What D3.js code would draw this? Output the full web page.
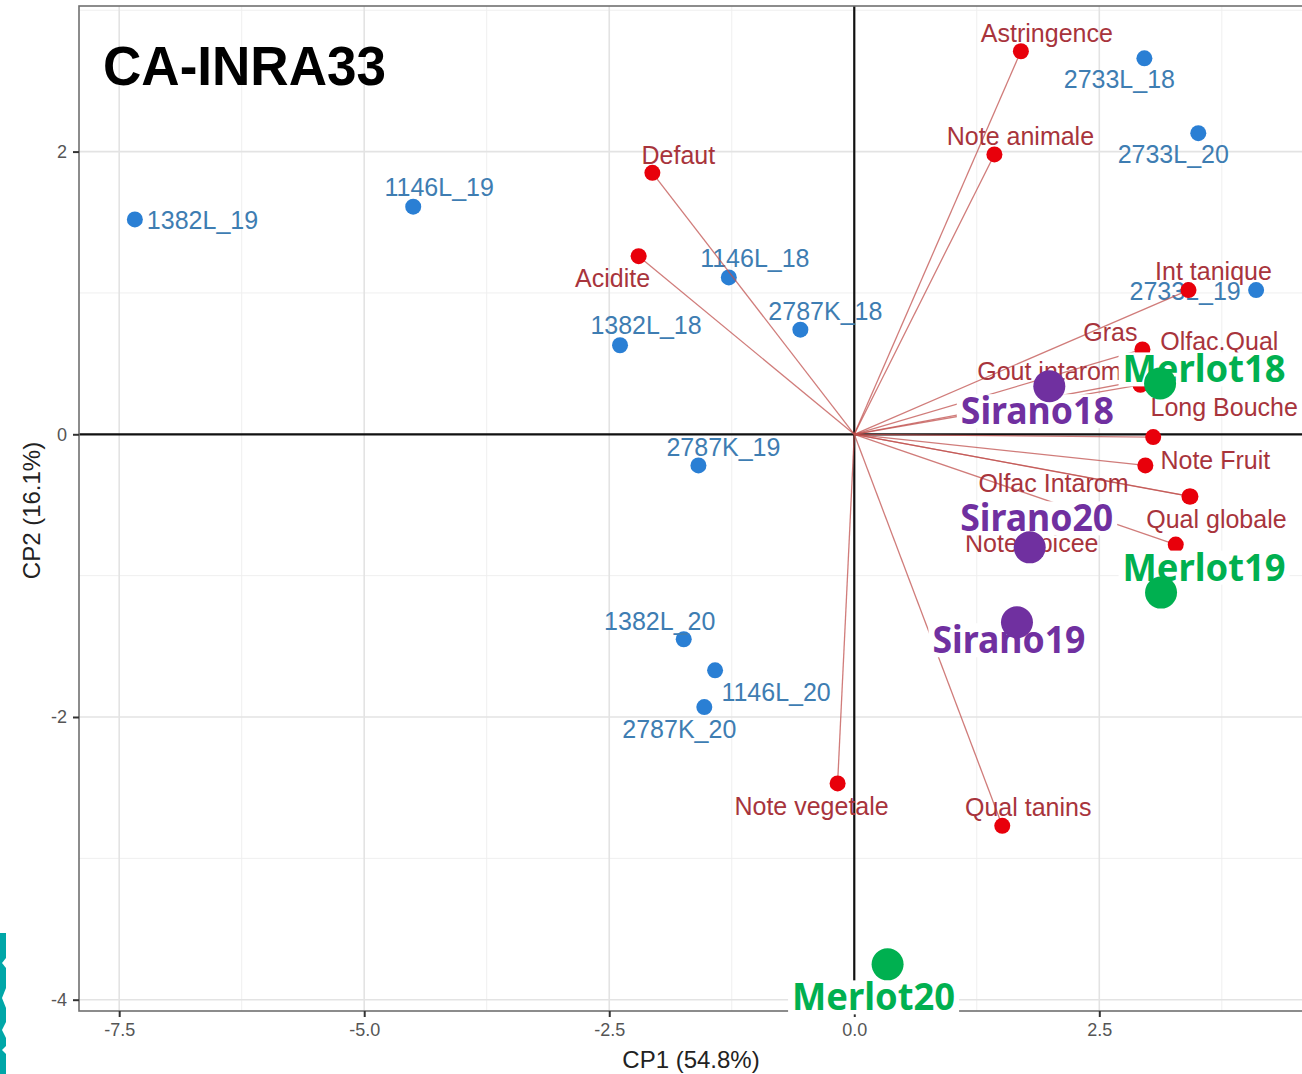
<!DOCTYPE html>
<html>
<head>
<meta charset="utf-8">
<script src="https://cdn.jsdelivr.net/npm/d3@7/dist/d3.min.js"></script>
<style>
  body { margin: 0; background: #fff; }
  svg { display: block; }
</style>
</head>
<body>
<svg id="chart"></svg>
<script>
// Individuals (blue)
const indNames = ['1382L_19', '1146L_19', '1146L_18', '2787K_18', '1382L_18', '2787K_19',
  '1382L_20', '1146L_20', '2787K_20', '2733L_18', '2733L_20', '2733L_19'];
const indX = [-7.34, -4.50, -1.28, -0.55, -2.39, -1.59, -1.74, -1.42, -1.53, 2.96, 3.51, 4.10];
const indY = [1.52, 1.61, 1.11, 0.74, 0.63, -0.22, -1.45, -1.67, -1.93, 2.66, 2.13, 1.02];

// Variables (red arrows)
const varNames = ['Astringence', 'Note animale', 'Defaut', 'Acidite', 'Int tanique', 'Gras',
  'Olfac.Qual', 'Gout intarom', 'Long Bouche', 'Note Fruit', 'Olfac Intarom', 'Qual globale',
  'Note epicee', 'Note vegetale', 'Qual tanins'];
const varX = [1.70, 1.43, -2.06, -2.20, 3.41, 2.94, 3.00, 2.92, 3.05, 2.97, 3.42, 3.43, 3.28, -0.17, 1.51];
const varY = [2.71, 1.98, 1.85, 1.26, 1.02, 0.60, 0.39, 0.35, -0.02, -0.22, -0.44, -0.44, -0.78, -2.47, -2.77];

// Highlighted cultivars
const cultNames = ['Sirano18', 'Merlot18', 'Sirano20', 'Merlot19', 'Sirano19', 'Merlot20'];
const cultGroup = ['Sirano', 'Merlot', 'Sirano', 'Merlot', 'Sirano', 'Merlot'];
const cultX = [1.99, 3.12, 1.79, 3.13, 1.66, 0.34];
const cultY = [0.34, 0.36, -0.80, -1.12, -1.33, -3.75];

const xTicks = [-7.5, -5, -2.5, 0, 2.5];
const yTicks = [-4, -2, 0, 2];
const xMinor = [-6.25, -3.75, -1.25, 1.25, 3.75];
const yMinor = [-3, -1, 1, 3];

const title = 'CA-INRA33';
const xTitle = 'CP1 (54.8%)';
const yTitle = 'CP2 (16.1%)';

// label placement (pixel offset from the point to the label centre, text anchor)
const indLabelPos = {
  '1382L_19': [12, 1, 'start'], '1146L_19': [26, -20, 'middle'], '1146L_18': [26, -19, 'middle'],
  '2787K_18': [25, -19, 'middle'], '1382L_18': [26, -20, 'middle'], '2787K_19': [25, -18, 'middle'],
  '1382L_20': [-24, -18, 'middle'], '1146L_20': [61, 22, 'middle'], '2787K_20': [-25, 22, 'middle'],
  '2733L_18': [-25, 21, 'middle'], '2733L_20': [-25, 21, 'middle'], '2733L_19': [-71, 1, 'middle']
};
const varLabelPos = {
  'Astringence': [26, -18], 'Note animale': [26, -18], 'Defaut': [26, -18], 'Acidite': [-26, 22],
  'Int tanique': [25, -19], 'Gras': [-32, -17], 'Olfac.Qual': [71, -38], 'Gout intarom': [-91, -14],
  'Long Bouche': [71, -30], 'Note Fruit': [70, -5], 'Olfac Intarom': [-136, -13],
  'Qual globale': [26, 23], 'Note epicee': [-144, -2], 'Note vegetale': [-26, 23], 'Qual tanins': [26, -19]
};
// highlighted labels: text centre dx, baseline dy, text width (relative to dot)
const cultLabelPos = {
  'Sirano18': [-12, 38, 153], 'Merlot18': [44, -1, 163], 'Sirano20': [7, -16, 153],
  'Merlot19': [43, -12, 163], 'Sirano19': [-8, 31, 153], 'Merlot20': [-14, 46, 163]
};
const cultColor = { Sirano: '#7030A0', Merlot: '#00B050' };

const width = 1302, height = 1074;
const panel = { left: 79, top: 6, right: 1311, bottom: 1011 };
const FONT = '"Liberation Sans", Arial, sans-serif';

const svg = d3.select('#chart').attr('width', width).attr('height', height);

const x = d3.scaleLinear().domain([-7.91, 4.66]).range([panel.left, panel.right]);
const y = d3.scaleLinear().domain([-4.08, 3.03]).range([panel.bottom, panel.top]);

// Grid
const grid = svg.append('g');
grid.selectAll('.xminor').data(xMinor).enter().append('line')
  .attr('x1', d => x(d)).attr('x2', d => x(d)).attr('y1', panel.top).attr('y2', panel.bottom)
  .attr('stroke', '#efefef').attr('stroke-width', 1);
grid.selectAll('.yminor').data(yMinor).enter().append('line')
  .attr('y1', d => y(d)).attr('y2', d => y(d)).attr('x1', panel.left).attr('x2', panel.right)
  .attr('stroke', '#efefef').attr('stroke-width', 1);
grid.selectAll('.xmajor').data(xTicks).enter().append('line')
  .attr('x1', d => x(d)).attr('x2', d => x(d)).attr('y1', panel.top).attr('y2', panel.bottom)
  .attr('stroke', '#e3e3e3').attr('stroke-width', 1.6);
grid.selectAll('.ymajor').data(yTicks).enter().append('line')
  .attr('y1', d => y(d)).attr('y2', d => y(d)).attr('x1', panel.left).attr('x2', panel.right)
  .attr('stroke', '#e3e3e3').attr('stroke-width', 1.6);

// Zero lines
svg.append('line').attr('x1', panel.left).attr('x2', panel.right).attr('y1', y(0)).attr('y2', y(0))
  .attr('stroke', '#111').attr('stroke-width', 2.2);
svg.append('line').attr('x1', x(0)).attr('x2', x(0)).attr('y1', panel.top).attr('y2', panel.bottom)
  .attr('stroke', '#111').attr('stroke-width', 2.2);

// Panel border
svg.append('rect').attr('x', panel.left).attr('y', panel.top)
  .attr('width', panel.right - panel.left).attr('height', panel.bottom - panel.top)
  .attr('fill', 'none').attr('stroke', '#707070').attr('stroke-width', 1.6);

// Axes
const xAxis = svg.append('g').attr('transform', `translate(0,${panel.bottom})`)
  .call(d3.axisBottom(x).tickValues(xTicks).tickSize(6).tickPadding(6).tickFormat(d => d.toFixed(1)));
const yAxis = svg.append('g').attr('transform', `translate(${panel.left},0)`)
  .call(d3.axisLeft(y).tickValues(yTicks).tickSize(6).tickPadding(6).tickFormat(d => String(d)));
[xAxis, yAxis].forEach(a => {
  a.select('.domain').remove();
  a.selectAll('.tick line').attr('stroke', '#333').attr('stroke-width', 2);
  a.selectAll('.tick text').attr('fill', '#555').attr('font-size', 18).attr('font-family', FONT);
});

// Axis titles
svg.append('text').attr('x', (panel.left + panel.right) / 2 - 4).attr('y', 1068)
  .attr('text-anchor', 'middle').attr('font-family', FONT).attr('font-size', 24).attr('fill', '#222')
  .text(xTitle);
svg.append('text').attr('transform', `translate(40,${(panel.top + panel.bottom) / 2 + 2}) rotate(-90)`)
  .attr('text-anchor', 'middle').attr('font-family', FONT).attr('font-size', 24).attr('fill', '#222')
  .text(yTitle);

// Individuals
const inds = indNames.map((n, i) => ({ name: n, x: indX[i], y: indY[i] }));
svg.append('g').selectAll('circle').data(inds).enter().append('circle')
  .attr('cx', d => x(d.x)).attr('cy', d => y(d.y)).attr('r', 8).attr('fill', '#2A7FD4');
svg.append('g').selectAll('text').data(inds).enter().append('text')
  .attr('x', d => x(d.x) + indLabelPos[d.name][0])
  .attr('y', d => y(d.y) + indLabelPos[d.name][1])
  .attr('text-anchor', d => indLabelPos[d.name][2])
  .attr('dominant-baseline', 'central')
  .attr('font-family', FONT).attr('font-size', 25).attr('fill', '#3E7DB2')
  .text(d => d.name);

// Variables
const vars = varNames.map((n, i) => ({ name: n, x: varX[i], y: varY[i] }));
svg.append('g').selectAll('line').data(vars).enter().append('line')
  .attr('x1', x(0)).attr('y1', y(0))
  .attr('x2', d => x(d.x)).attr('y2', d => y(d.y))
  .attr('stroke', '#C0504D').attr('stroke-opacity', 0.75).attr('stroke-width', 1.3);
svg.append('g').selectAll('circle').data(vars).enter().append('circle')
  .attr('cx', d => x(d.x)).attr('cy', d => y(d.y)).attr('r', 8).attr('fill', '#E8000B');
svg.append('g').selectAll('text').data(vars).enter().append('text')
  .attr('x', d => x(d.x) + varLabelPos[d.name][0])
  .attr('y', d => y(d.y) + varLabelPos[d.name][1])
  .attr('text-anchor', 'middle')
  .attr('dominant-baseline', 'central')
  .attr('font-family', FONT).attr('font-size', 25).attr('fill', '#A8343C')
  .text(d => d.name);

// Highlighted cultivars: white text box, label, then dot on top
const cults = cultNames.map((n, i) => ({ name: n, group: cultGroup[i], x: cultX[i], y: cultY[i] }));
const cg = svg.append('g').selectAll('g').data(cults).enter().append('g');
cg.append('rect')
  .attr('x', d => x(d.x) + cultLabelPos[d.name][0] - cultLabelPos[d.name][2] / 2 - 4)
  .attr('y', d => y(d.y) + cultLabelPos[d.name][1] - 30)
  .attr('width', d => cultLabelPos[d.name][2] + 8)
  .attr('height', 34)
  .attr('fill', '#fff');
cg.append('text')
  .attr('x', d => x(d.x) + cultLabelPos[d.name][0])
  .attr('y', d => y(d.y) + cultLabelPos[d.name][1])
  .attr('text-anchor', 'middle')
  .attr('font-family', '"Noto Sans", "Open Sans", sans-serif').attr('font-weight', 'bold')
  .attr('font-size', 38)
  .attr('textLength', d => cultLabelPos[d.name][2]).attr('lengthAdjust', 'spacingAndGlyphs')
  .attr('fill', d => cultColor[d.group])
  .text(d => d.name);
cg.append('circle')
  .attr('cx', d => x(d.x)).attr('cy', d => y(d.y)).attr('r', 16)
  .attr('fill', d => cultColor[d.group]);

// Title
svg.append('text').attr('x', 103).attr('y', 85)
  .attr('font-family', FONT).attr('font-weight', 'bold').attr('font-size', 55)
  .attr('textLength', 283).attr('lengthAdjust', 'spacingAndGlyphs')
  .attr('fill', '#000').text(title);

// Cropped logo strip at lower left
const logo = svg.append('g');
logo.append('rect').attr('x', 0).attr('y', 933).attr('width', 6).attr('height', 141).attr('fill', '#00A7A8');
[[958, 968], [988, 1008], [1022, 1038], [1046, 1054]].forEach(([a, b]) => {
  logo.append('path')
    .attr('d', `M6,${a} L2,${(a + b) / 2} L6,${b} Z`)
    .attr('fill', '#fff');
});
</script>
</body>
</html>
